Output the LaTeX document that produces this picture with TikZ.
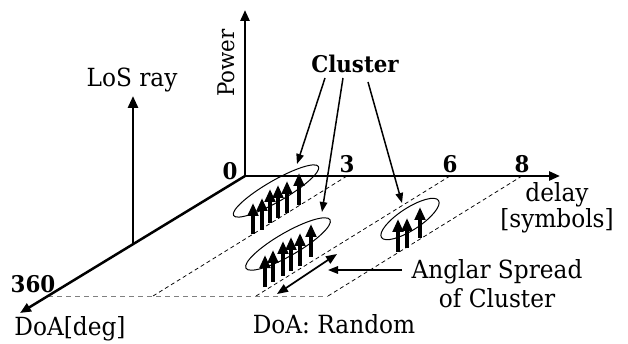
\documentclass[tikz,border=0pt]{standalone}
\usepackage{fontspec}
\setmainfont{DejaVu Serif}[FakeStretch=0.93]
\usetikzlibrary{arrows.meta,shapes.geometric}
\tikzset{
  lbl/.style={font=\fontsize{25}{29}\selectfont, inner sep=0pt, anchor=base},
  bnum/.style={lbl, font=\fontsize{23}{27}\selectfont\bfseries},
  axis/.style={line width=2.5pt, -{Triangle[length=11pt,width=9pt]}},
  ray/.style={line width=3.4pt, -{Triangle[length=13pt,width=10.5pt]}},
  ptr/.style={line width=1.5pt, -{Triangle[length=10pt,width=7.5pt]}},
  dline/.style={line width=0.75pt, dash pattern=on 4pt off 3pt},
  bline/.style={line width=1pt, gray, dash pattern=on 5pt off 4pt},
  clus/.style={ellipse, draw, line width=1pt, inner sep=0pt},
}
\begin{document}
\begin{tikzpicture}[x=1pt,y=-1pt]
\useasboundingbox (0,0) rectangle (628,344);
% axis points
\coordinate (O) at (245,176);
\coordinate (Ptop) at (245,10);
\coordinate (Dend) at (560,176);
\coordinate (Aend) at (20,313);
\coordinate (T3) at (347,176);
\coordinate (T6) at (450,176);
\coordinate (T8) at (522,176);
\coordinate (B360) at (48,296);
\coordinate (B3) at (153,296);
\coordinate (B6) at (256,296);
\coordinate (B8) at (328,296);
% dashed grid
\draw[dline] (T3) -- (B3);
\draw[dline] (T6) -- (B6);
\draw[dline] (T8) -- (B8);
\draw[bline] (B360) -- (B8);
% axes
\draw[axis] (O) -- (Ptop);
\draw[axis] (O) -- (Dend);
\draw[axis] (O) -- (Aend);
% labels
\node[lbl, rotate=90, font=\fontsize{23}{27}\selectfont] (power) at (234,63) {Power};
\node[bnum] (n0) at (230,180) {0};
\node[bnum] (n3) at (347,173) {3};
\node[bnum] (n6) at (450,173) {6};
\node[bnum] (n8) at (522,173) {8};
\node[bnum] (n360) at (33,292) {360};
\node[lbl] (delay) at (557,202) {delay};
\node[lbl] (symb) at (557,228) {[symbols]};
\node[lbl] (doa) at (70,335) {DoA[deg]};
\node[lbl] (rand) at (334,333) {DoA: Random};
\node[lbl] (as1) at (497,278) {Anglar Spread};
\node[lbl] (as2) at (497,307) {of Cluster};
\node[lbl] (los) at (132,87) {LoS ray};
\node[bnum] (clu) at (355,73) {Cluster};
% LoS ray
\coordinate (Lb) at (133,243);
\coordinate (Lt) at (133,96);
\draw[line width=2.7pt, -{Triangle[length=12pt,width=10pt]}] (Lb) -- (Lt);
% cluster ellipses
\node[clus, minimum width=98pt, minimum height=21pt, rotate=30] (e1) at (276,191) {};
\node[clus, minimum width=97pt, minimum height=23pt, rotate=30] (e2) at (288,244) {};
\node[clus, minimum width=68pt, minimum height=22pt, rotate=33] (e3) at (410,219) {};
% cluster rays
\foreach \x/\b/\t in {253/234/203, 262/230/198, 270/223/189, 278/218/185, 287/213/181, 299/205/173,
                      265/287/255, 273/282/250, 283/276/241, 291/271/237, 300/266/233, 311/257/224,
                      398/252/219, 407/248/218, 420/238/207}
  \draw[ray] (\x,\b) -- (\x,\t);
% pointers from "Cluster"
\coordinate (c1s) at (325,78);
\coordinate (c2s) at (343,78);
\coordinate (c3s) at (368,82);
\coordinate (c1t) at (297,164);
\coordinate (c2t) at (322,212);
\coordinate (c3t) at (402,203);
\draw[ptr] (c1s) -- (c1t);
\draw[ptr] (c2s) -- (c2t);
\draw[ptr] (c3s) -- (c3t);
% angular spread
\coordinate (da1) at (277,294);
\coordinate (da2) at (337,254);
\draw[line width=1.7pt, {Triangle[length=11pt,width=8.5pt]}-{Triangle[length=11pt,width=8.5pt]}] (da1) -- (da2);
\coordinate (sps) at (402,270);
\coordinate (spt) at (328,270);
\draw[ptr] (sps) -- (spt);
\end{tikzpicture}
\end{document}
